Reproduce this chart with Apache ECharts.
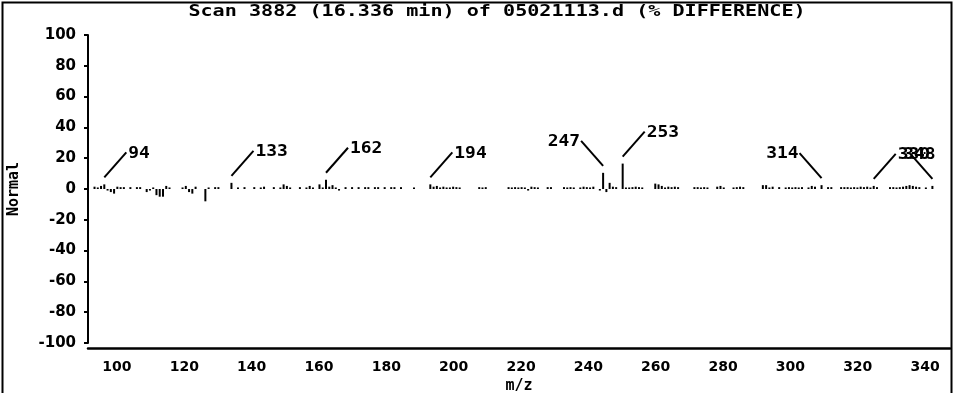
<!DOCTYPE html>
<html><head><meta charset="utf-8">
<script src="https://cdn.jsdelivr.net/npm/echarts@6/dist/echarts.min.js"></script>
<style>html,body{margin:0;padding:0;background:#fff}#c{width:954px;height:393px}</style>
</head><body><div id="c"></div>
<script>
const titleText = 'Scan 3882 (16.336 min) of 05021113.d (% DIFFERENCE)';
const xName = 'm/z';
const yName = 'Normal';
const xTicks = [100,120,140,160,180,200,220,240,260,280,300,320,340];
const yTicks = [-100,-80,-60,-40,-20,0,20,40,60,80,100];

const mzValues = [91,92,93,94,95,96,97,98,99,100,102,104,105,107,108,109,110,111,112,113,114,118,119,120,121,122,125,126,128,129,133,135,137,140,142,143,146,148,149,150,151,154,
156,157,158,160,161,162,163,164,165,166,168,170,172,174,175,177,178,180,182,183,185,189,194,195,196,197,198,199,200,201,202,203,209,210,211,218,219,220,221,
222,223,224,225,226,227,230,231,235,236,237,238,240,241,242,243,244,246,247,248,249,250,251,253,254,255,256,257,258,259,263,264,265,266,267,268,269,270,275,276,277,278,279,282,283,284,287,288,
289,290,296,297,298,299,301,303,304,305,306,307,308,310,311,312,314,316,317,320,321,322,323,324,325,326,327,328,329,330,331,335,336,337,338,339,340,341,342,343,344,346,348];
const diffValues = [1.5,1,2,3,-1,-2,-3,1.5,1.2,1.2,1.2,1.2,1.2,-2,-1,1,-4,-5,-5,2,1,1,2,-2,-3,1.5,-8,1,1.2,1.2,4,1,1.2,1.2,1,1.5,1.2,1,3,2,1,1.2,
1,2,1,3,1,6,1.5,2.5,1,-1,1.2,1.2,1.2,1.2,1.2,1.2,1.2,1.2,1.2,1.2,1.2,1,3,1.5,2,1,1.5,1,1,1.5,1.2,1,1.2,1,1.2,1.2,1,1.2,1,
1.2,1,-1,1.5,1.2,1,1.2,1.2,1.2,1,1.2,1,1,1.5,1.2,1,1.5,-1,10.5,-2,4,1.5,1.2,16.5,1,1,1.2,1.5,1.2,1,3.5,3,2,1,1.5,1.2,1.5,1.2,1.2,1.2,1,1.2,1,1.5,2,1,1,1.2,
1.5,1.2,2.5,2.5,1,1.5,1.2,1,1.2,1,1.2,1,1.2,1,2,1.5,2.5,1.2,1.2,1.2,1.2,1.2,1,1.2,1,1.5,1.2,1.5,1,2,1.2,1.2,1.2,1,1.2,1.5,2,2.5,2,1.5,1.2,1,2];

const peakMz = [94,133,162,194,247,253,314,330,348];
const peakLabels = ['94','133','162','194','247','253','314','330','348'];
const peakSide = ['right','right','right','right','left','right','left','right','over'];

const FONT = 'DejaVu Sans Mono';
const barData = mzValues.map((m,i)=>[m, diffValues[i]]);
const peakData = peakMz.map((m,i)=>{
  const k = mzValues.indexOf(m);
  return [m, k >= 0 ? diffValues[k] : 0, peakLabels[i]];
});

// data axis range (bars) and the printed scale range (tick labels)
const X_MIN = 89, X_MAX = 353.4;
const LBL_MIN = 91.4, LBL_MAX = 347.4;
const chart = echarts.init(document.getElementById('c'), null, {renderer:'canvas'});
chart.setOption({
  backgroundColor: '#fff',
  animation: false,
  graphic: [
    {type:'rect', shape:{x:2.5, y:2.5, width:949, height:400}, style:{fill:'none', stroke:'#000', lineWidth:2}},
    {type:'text', x:497, y:12, scaleX:1.34,
     style:{text:titleText, font:'bold 15px ' + FONT, fill:'#000', textAlign:'center', textVerticalAlign:'middle'}}
  ],
  grid: [
    {left:88, right:4, top:35, height:313, outerBoundsMode:'none', containLabel:false},
    {left:88, right:4, top:35, height:308, outerBoundsMode:'none', containLabel:false}
  ],
  xAxis: [
    {gridIndex:0, type:'value', min:LBL_MIN, max:LBL_MAX,
     name:xName, nameLocation:'middle', nameGap:31,
     nameTextStyle:{fontFamily:FONT, fontWeight:'bold', fontSize:15, color:'#000'},
     axisLine:{show:true, onZero:false, lineStyle:{color:'#000', width:2.5}},
     axisTick:{show:false},
     splitLine:{show:false},
     axisLabel:{customValues:xTicks, fontFamily:'DejaVu Sans', fontWeight:'bold', fontSize:14, color:'#000', margin:12}},
    {gridIndex:1, type:'value', min:X_MIN, max:X_MAX, show:false}
  ],
  yAxis: [
    {gridIndex:0, type:'value', min:-103.2, max:100, show:false},
    {gridIndex:1, type:'value', min:-100, max:100, interval:20,
     name:yName, nameLocation:'middle', nameGap:66, nameRotate:90,
     nameTextStyle:{fontFamily:FONT, fontWeight:'bold', fontSize:15, color:'#000'},
     axisLine:{show:true, lineStyle:{color:'#000', width:2}},
     axisTick:{show:true, length:4, lineStyle:{color:'#000', width:2}},
     splitLine:{show:false},
     axisLabel:{fontFamily:'DejaVu Sans', fontWeight:'bold', fontSize:15, color:'#000', margin:12}}
  ],
  series: [
    {type:'bar', xAxisIndex:1, yAxisIndex:1, data:barData, barWidth:2,
     itemStyle:{color:'#000'}, silent:true},
    {type:'custom', xAxisIndex:1, yAxisIndex:1, data:peakData, clip:false, silent:true,
     renderItem:function(params, api){
       const side = peakSide[params.dataIndex];
       const p = api.coord([api.value(0), Math.max(api.value(1),0)]);
       const dir = side === 'right' ? 1 : -1;
       const x0 = p[0], y0 = p[1] - 7;
       const x1 = x0 + dir*22, y1 = y0 - 25;
       let tx, align;
       if (side === 'right') { tx = x1 + 2; align = 'left'; }
       else if (side === 'left') { tx = x1 - 1; align = 'right'; }
       else { tx = x1 + 9; align = 'center'; }
       return {type:'group', children:[
         {type:'line', shape:{x1:x0, y1:y0, x2:x1, y2:y1}, style:{stroke:'#000', lineWidth:2}},
         {type:'text', x:tx, y:y1 + 1, scaleX:1.12,
          style:{text:api.value(2), font:'bold 16px ' + FONT, fill:'#000', textAlign:align, textVerticalAlign:'middle'}}
       ]};
     }}
  ]
});
</script></body></html>
